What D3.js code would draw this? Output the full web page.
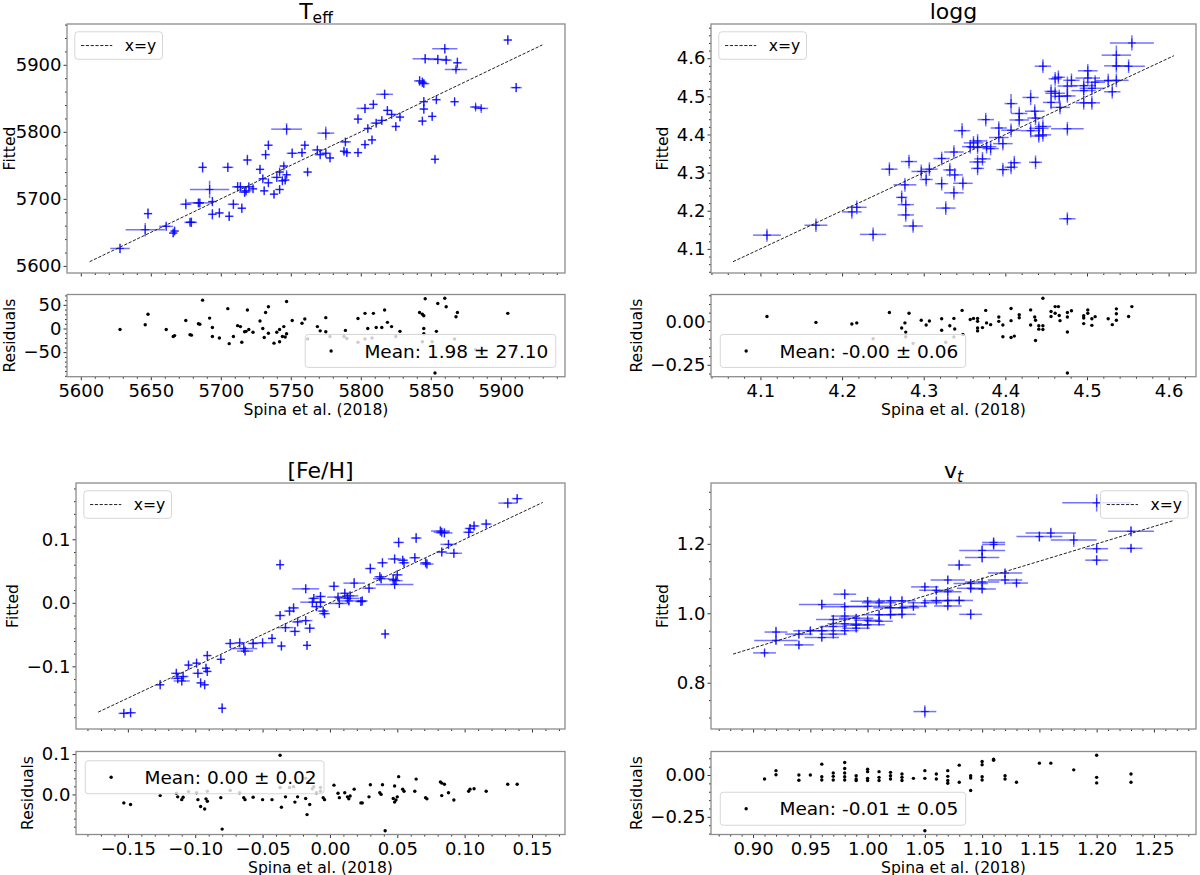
<!DOCTYPE html>
<html><head><meta charset="utf-8">
<script src="https://cdn.jsdelivr.net/npm/d3@7"></script>
<style>body{margin:0;background:#fff}svg{display:block}</style>
</head><body>
<svg id="c" width="1200" height="875"></svg>
<script>
// ---------------- DATA ----------------
const teffSpina = [5628,5646,5648,5661,5666,5667,5675,5678,5679,5684,
5685,5687,5692,5694,5694,5699,5705,5706,5709,5712,
5714,5715,5717,5718,5719,5720,5723,5728,5730,5731,
5732,5734,5734,5738,5740,5742,5742,5744,5745,5746,
5747,5747,5751,5758,5760,5762,5769,5771,5775,5775,
5778,5789,5788,5790,5798,5798,5803,5803,5805,5808,
5809,5811,5815,5817,5819,5822,5825,5828,5842,5844,
5845,5846,5845,5845,5844,5853,5854,5851,5855,5860,
5861,5867,5868,5869,5882,5886,5905,5911];
const teffFitted = [5626,5654,5678,5659,5649,5652,5692,5665,5665,5694,
5694,5747,5714,5696,5677,5679,5747,5674,5692,5718,
5718,5686,5710,5712,5758,5718,5715,5744,5730,5712,
5766,5780,5724,5707,5732,5740,5714,5727,5749,5728,
5804,5736,5768,5769,5780,5740,5773,5766,5768,5798,
5761,5785,5771,5769,5819,5769,5835,5781,5805,5788,
5841,5813,5817,5856,5832,5826,5808,5822,5876,5874,
5845,5909,5872,5834,5816,5759,5848,5823,5908,5924,
5907,5845,5893,5903,5837,5835,5937,5866];
const teffResid = [-2,8,30,-2,-17,-15,17,-13,-14,10,
9,60,22,2,-17,-20,42,-32,-17,6,
4,-29,-7,-6,39,-2,-8,16,0,-19,
34,46,-10,-31,-8,-2,-28,-17,4,-18,
57,-11,17,11,20,-22,4,-5,-7,23,
-17,-4,-17,-21,21,-29,32,-22,0,-20,
32,2,2,39,13,4,-17,-6,34,30,
0,63,27,-11,-28,-94,-6,-28,53,64,
46,-22,25,34,-45,-51,32,-45];
const teffSpinaErr = [7,14,3,5,3,3,4,4,4,4,
9,3,14,3,3,3,4,3,4,4,
4,3,4,4,3,4,3,3,3,3,
3,3,3,3,4,3,3,3,3,3,
11,3,4,3,3,3,4,4,4,6,
3,4,3,3,3,3,6,3,3,3,
3,4,4,6,3,4,3,3,4,3,
3,9,4,3,3,3,3,3,7,9,
4,3,8,3,4,5,3,4];
const teffFittedErr = [7,10,8,6,6,6,8,6,7,6,
6,8,13,7,8,7,7,7,7,7,
7,7,7,7,8,6,6,7,6,6,
7,7,6,6,6,5,6,6,5,6,
9,5,7,6,6,6,6,6,6,10,
6,6,6,6,7,6,7,6,6,6,
6,6,6,7,6,6,6,6,7,7,
7,7,6,7,6,6,6,6,7,7,
6,6,4,8,4,4,7,7];

const loggSpina = [4.108,4.168,4.212,4.218,4.238,4.258,4.273,4.277,4.278,4.278,
4.282,4.287,4.297,4.303,4.307,4.322,4.322,4.327,4.332,4.337,
4.337,4.338,4.347,4.348,4.357,4.361,4.366,4.366,4.366,4.366,
4.372,4.376,4.377,4.382,4.392,4.392,4.397,4.397,4.407,4.407,
4.407,4.411,4.417,4.417,4.431,4.431,4.436,4.437,4.437,4.441,
4.441,4.446,4.446,4.446,4.456,4.456,4.461,4.461,4.465,4.466,
4.467,4.476,4.476,4.476,4.476,4.481,4.496,4.496,4.496,4.501,
4.501,4.506,4.506,4.510,4.526,4.531,4.536,4.536,4.536,4.551,
4.555];
const loggFitted = [4.136,4.162,4.197,4.209,4.138,4.309,4.235,4.268,4.216,4.189,
4.329,4.160,4.303,4.282,4.309,4.337,4.271,4.207,4.307,4.354,
4.247,4.294,4.410,4.272,4.368,4.378,4.383,4.366,4.328,4.311,
4.336,4.439,4.368,4.363,4.417,4.392,4.376,4.308,4.481,4.411,
4.314,4.326,4.455,4.438,4.497,4.410,4.461,4.443,4.327,4.416,
4.396,4.399,4.421,4.579,4.513,4.484,4.546,4.508,4.550,4.500,
4.471,4.527,4.501,4.415,4.179,4.542,4.528,4.515,4.483,4.567,
4.548,4.521,4.483,4.537,4.541,4.512,4.608,4.580,4.542,4.579,
4.640];
const loggResid = [0.028,-0.006,-0.015,-0.009,-0.100,0.051,-0.038,-0.009,-0.062,-0.089,
0.047,-0.127,0.006,-0.021,0.002,0.015,-0.051,-0.120,-0.025,0.017,
-0.090,-0.044,0.063,-0.076,0.011,0.017,0.017,0.000,-0.038,-0.055,
-0.036,0.063,-0.009,-0.019,0.025,0.000,-0.021,-0.089,0.074,0.004,
-0.093,-0.085,0.038,0.021,0.066,-0.021,0.025,0.006,-0.110,-0.025,
-0.045,-0.047,-0.025,0.133,0.057,0.028,0.085,0.047,0.085,0.034,
0.004,0.051,0.025,-0.061,-0.297,0.061,0.032,0.019,-0.013,0.066,
0.047,0.015,-0.023,0.027,0.015,-0.019,0.072,0.044,0.006,0.028,
0.085];
const loggSpinaErr = [0.017,0.014,0.012,0.012,0.016,0.010,0.007,0.014,0.010,0.010,
0.010,0.012,0.012,0.008,0.010,0.010,0.008,0.012,0.008,0.012,
0.012,0.010,0.010,0.012,0.010,0.012,0.010,0.012,0.010,0.008,
0.010,0.010,0.012,0.010,0.010,0.012,0.012,0.008,0.008,0.012,
0.008,0.008,0.010,0.012,0.010,0.012,0.012,0.010,0.008,0.012,
0.010,0.010,0.010,0.010,0.008,0.010,0.008,0.012,0.008,0.010,
0.012,0.012,0.010,0.020,0.010,0.010,0.015,0.015,0.010,0.012,
0.015,0.015,0.010,0.012,0.015,0.010,0.018,0.015,0.015,0.020,
0.027];
const loggFittedErr = [0.017,0.018,0.018,0.018,0.018,0.018,0.018,0.018,0.018,0.018,
0.018,0.018,0.018,0.018,0.018,0.018,0.018,0.018,0.018,0.018,
0.018,0.018,0.020,0.018,0.018,0.018,0.018,0.018,0.018,0.018,
0.018,0.018,0.018,0.018,0.018,0.018,0.018,0.018,0.025,0.018,
0.018,0.018,0.018,0.018,0.020,0.018,0.018,0.018,0.018,0.018,
0.018,0.018,0.018,0.018,0.018,0.018,0.018,0.018,0.018,0.018,
0.018,0.025,0.018,0.018,0.017,0.018,0.018,0.018,0.018,0.018,
0.018,0.018,0.018,0.018,0.018,0.018,0.025,0.018,0.018,0.018,
0.020];

const fehSpina = [-0.153,-0.148,-0.126,-0.114,-0.113,-0.110,-0.109,-0.105,-0.099,-0.098,
-0.096,-0.093,-0.092,-0.091,-0.091,-0.081,-0.080,-0.074,-0.067,-0.064,
-0.063,-0.057,-0.050,-0.043,-0.037,-0.037,-0.036,-0.033,-0.030,-0.027,
-0.026,-0.024,-0.018,-0.018,-0.017,-0.015,-0.013,-0.012,-0.010,-0.007,
-0.007,-0.005,-0.004,0.003,0.006,0.007,0.011,0.013,0.014,0.015,
0.018,0.023,0.024,0.029,0.030,0.037,0.038,0.039,0.041,0.047,
0.048,0.048,0.049,0.050,0.051,0.054,0.055,0.063,0.064,0.071,
0.072,0.082,0.083,0.083,0.085,0.088,0.092,0.103,0.104,0.107,
0.116,0.132,0.139];
const fehFitted = [-0.174,-0.173,-0.129,-0.111,-0.119,-0.123,-0.116,-0.098,-0.095,-0.111,
-0.126,-0.129,-0.103,-0.108,-0.083,-0.089,-0.166,-0.064,-0.063,-0.072,
-0.076,-0.064,-0.063,-0.056,0.060,-0.020,-0.068,-0.039,-0.013,-0.008,
-0.045,-0.030,-0.028,0.022,-0.067,-0.040,0.001,0.007,-0.006,0.010,
0.001,-0.013,-0.017,0.026,0.009,-0.001,0.015,0.007,0.003,0.011,
0.031,0.002,0.003,0.023,0.054,0.041,0.038,0.063,-0.049,0.037,
0.069,0.029,0.035,0.044,0.095,0.067,0.063,0.071,0.102,0.063,
0.061,0.113,0.111,0.080,0.110,0.092,0.078,0.111,0.117,0.121,
0.124,0.157,0.164];
const fehResid = [-0.021,-0.025,-0.003,0.003,-0.006,-0.013,-0.007,0.007,0.004,-0.013,
-0.030,-0.036,-0.011,-0.017,0.008,-0.008,-0.086,0.010,0.004,-0.008,
-0.013,-0.007,-0.013,-0.013,0.097,0.017,-0.032,-0.006,0.017,0.019,
-0.019,-0.006,-0.010,0.040,-0.050,-0.025,0.014,0.019,0.004,0.017,
0.008,-0.008,-0.013,0.023,0.003,-0.008,0.004,-0.006,-0.011,-0.004,
0.013,-0.021,-0.021,-0.006,0.024,0.004,0.000,0.024,-0.090,-0.010,
0.021,-0.019,-0.014,-0.006,0.044,0.013,0.008,0.008,0.038,-0.008,
-0.011,0.031,0.028,-0.003,0.025,0.004,-0.014,0.008,0.013,0.014,
0.008,0.025,0.025];
const fehSpinaErr = [0.004,0.004,0.003,0.004,0.005,0.006,0.004,0.003,0.003,0.004,
0.003,0.003,0.003,0.003,0.003,0.003,0.003,0.004,0.004,0.010,
0.006,0.004,0.008,0.003,0.003,0.004,0.003,0.006,0.004,0.004,
0.004,0.004,0.005,0.010,0.003,0.004,0.009,0.004,0.004,0.004,
0.004,0.004,0.004,0.004,0.008,0.008,0.004,0.009,0.008,0.006,
0.008,0.004,0.004,0.005,0.004,0.004,0.006,0.004,0.003,0.004,
0.005,0.014,0.005,0.004,0.004,0.004,0.004,0.004,0.004,0.004,
0.005,0.007,0.006,0.004,0.006,0.006,0.006,0.004,0.004,0.004,
0.004,0.007,0.004];
const fehFittedErr = [0.007,0.007,0.007,0.007,0.008,0.007,0.007,0.007,0.007,0.007,
0.007,0.007,0.007,0.007,0.007,0.007,0.008,0.007,0.007,0.007,
0.007,0.007,0.007,0.007,0.008,0.007,0.007,0.007,0.007,0.007,
0.007,0.007,0.007,0.007,0.007,0.007,0.007,0.007,0.007,0.007,
0.007,0.007,0.007,0.007,0.007,0.007,0.007,0.007,0.007,0.007,
0.008,0.007,0.007,0.007,0.008,0.007,0.007,0.007,0.007,0.007,
0.007,0.007,0.007,0.007,0.008,0.007,0.007,0.007,0.008,0.007,
0.007,0.007,0.007,0.007,0.007,0.007,0.007,0.007,0.007,0.007,
0.007,0.008,0.007];

const vtSpina = [0.91,0.92,0.92,0.94,0.94,0.95,0.96,0.96,0.96,0.97,0.97,0.97,
0.98,0.98,0.98,0.98,0.98,0.99,0.99,0.99,1.00,1.00,1.00,1.00,1.01,1.01,1.01,
1.02,1.02,1.02,1.03,1.03,1.03,1.04,1.05,1.05,1.05,1.06,1.06,1.07,1.07,1.07,1.07,
1.08,1.08,1.09,1.09,1.09,1.10,1.10,1.10,1.10,1.11,1.11,1.12,1.12,1.13,1.15,1.16,
1.18,1.20,1.20,1.20,1.23,1.23];
const vtFitted = [0.886,0.946,0.922,0.940,0.909,0.950,1.025,0.950,0.930,0.982,0.962,0.940,
1.055,1.019,0.992,0.970,0.950,0.986,0.966,0.957,1.035,1.020,0.980,0.967,1.030,0.996,0.977,
1.036,1.016,0.996,1.036,1.016,0.997,1.020,1.076,1.030,0.717,1.066,1.036,1.096,1.062,1.037,1.021,
1.139,1.037,1.086,1.072,0.997,1.181,1.161,1.090,1.070,1.204,1.198,1.116,1.096,1.087,1.221,1.231,
1.211,1.318,1.186,1.153,1.236,1.187];
const vtResid = [-0.024,0.026,0.002,0.000,-0.031,0.000,0.065,-0.010,-0.030,0.012,-0.008,-0.030,
0.075,0.039,0.012,-0.010,-0.030,-0.004,-0.024,-0.033,0.035,0.020,-0.020,-0.033,0.020,-0.014,-0.033,
0.016,-0.004,-0.024,0.006,-0.014,-0.033,-0.020,0.026,-0.020,-0.333,0.006,-0.024,0.026,-0.008,-0.033,-0.049,
0.059,-0.043,-0.004,-0.018,-0.093,0.081,0.061,-0.010,-0.030,0.094,0.088,-0.004,-0.024,-0.043,0.071,0.071,
0.031,0.118,-0.014,-0.047,0.006,-0.043];
const vtSpinaErr = [0.010,0.010,0.019,0.012,0.013,0.015,0.020,0.012,0.015,0.015,0.012,0.012,
0.010,0.020,0.012,0.015,0.012,0.015,0.012,0.012,0.015,0.020,0.012,0.015,0.015,0.015,0.012,
0.012,0.015,0.012,0.012,0.015,0.012,0.012,0.012,0.015,0.010,0.015,0.012,0.015,0.012,0.015,0.012,
0.010,0.012,0.015,0.012,0.010,0.020,0.015,0.015,0.012,0.010,0.010,0.015,0.015,0.010,0.020,0.022,
0.020,0.030,0.010,0.010,0.020,0.010];
const vtFittedErr = [0.010,0.015,0.012,0.012,0.012,0.010,0.015,0.010,0.010,0.012,0.010,0.010,
0.015,0.012,0.012,0.010,0.010,0.012,0.010,0.010,0.012,0.012,0.010,0.010,0.012,0.012,0.010,
0.012,0.012,0.010,0.012,0.010,0.010,0.012,0.012,0.010,0.018,0.012,0.010,0.012,0.012,0.010,0.010,
0.015,0.010,0.012,0.012,0.015,0.015,0.015,0.012,0.012,0.015,0.015,0.012,0.012,0.010,0.015,0.015,
0.020,0.025,0.012,0.015,0.015,0.012];

// tick values (labels are formatted from them)
const teffXTicks = [5600,5650,5700,5750,5800,5850,5900];
const teffYTicks = [5600,5700,5800,5900];
const teffRTicks = [-50,0,50];
const loggXTicks = [4.1,4.2,4.3,4.4,4.5,4.6];
const loggYTicks = [4.1,4.2,4.3,4.4,4.5,4.6];
const loggRTicks = [-0.25,0.0];
const fehXTicks = [-0.15,-0.10,-0.05,0.00,0.05,0.10,0.15];
const fehYTicks = [-0.1,0.0,0.1];
const fehRTicks = [0.0,0.1];
const vtXTicks = [0.90,0.95,1.00,1.05,1.10,1.15,1.20,1.25];
const vtYTicks = [0.8,1.0,1.2];
const vtRTicks = [-0.25,0.0];

const meanLabels = ["Mean: 1.98 \u00b1 27.10","Mean: -0.00 \u00b1 0.06","Mean: 0.00 \u00b1 0.02","Mean: -0.01 \u00b1 0.05"];
const xLabel = "Spina et al. (2018)";
const lineLabel = "x=y";

// ---------------- LAYOUT ----------------
const FONT = "'DejaVu Sans', sans-serif";
const layout = {
  teff:{L:67,R:565,T:24,B:273,RT:294.5,RB:376.7},
  logg:{L:711,R:1196,T:24,B:273,RT:294.5,RB:376.7},
  feh:{L:76,R:565,T:483,B:729,RT:751.5,RB:834.5},
  vt:{L:711,R:1196,T:483,B:729,RT:751.5,RB:834.5}
};

const panels = [
 {key:"teff", title:[{t:"T",s:22,dy:0,it:false},{t:"eff",s:15.5,dy:4.5,it:false}],
  sp:teffSpina, fi:teffFitted, spE:teffSpinaErr, fiE:teffFittedErr, res:teffResid,
  xT:teffXTicks, yT:teffYTicks, rT:teffRTicks, xF:"d", yF:"d", rF:"d",
  xm:10, ym:20, rm:10, leg:"ul", rleg:"lr", mean:meanLabels[0]},
 {key:"logg", title:[{t:"logg",s:22,dy:0,it:false}],
  sp:loggSpina, fi:loggFitted, spE:loggSpinaErr, fiE:loggFittedErr, res:loggResid,
  xT:loggXTicks, yT:loggYTicks, rT:loggRTicks, xF:".1f", yF:".1f", rF:".2f",
  xm:0.02, ym:0.02, rm:0.05, leg:"ul", rleg:"ll", mean:meanLabels[1]},
 {key:"feh", title:[{t:"[Fe/H]",s:22,dy:0,it:false}],
  sp:fehSpina, fi:fehFitted, spE:fehSpinaErr, fiE:fehFittedErr, res:fehResid,
  xT:fehXTicks, yT:fehYTicks, rT:fehRTicks, xF:".2f", yF:".1f", rF:".1f",
  xm:0.01, ym:0.02, rm:0.02, leg:"ul", rleg:"ul", mean:meanLabels[2]},
 {key:"vt", title:[{t:"v",s:22,dy:0,it:false},{t:"t",s:15.5,dy:4.5,it:true}],
  sp:vtSpina, fi:vtFitted, spE:vtSpinaErr, fiE:vtFittedErr, res:vtResid,
  xT:vtXTicks, yT:vtYTicks, rT:vtRTicks, xF:".2f", yF:".1f", rF:".2f",
  xm:0.01, ym:0.05, rm:0.05, leg:"ur", rleg:"ll", mean:meanLabels[3]}
];

const svg = d3.select("#c");
svg.append("rect").attr("width",1200).attr("height",875).attr("fill","#fff");
const defs = svg.append("defs");

function padExt(a,b){ const r=b-a; return [a-0.05*r, b+0.05*r]; }
function minorVals(dom, step, majors){
  const a=Math.ceil(dom[0]/step-1e-9), b=Math.floor(dom[1]/step+1e-9);
  return d3.range(a,b+1).map(k=>+(k*step).toFixed(6))
    .filter(v=>!majors.some(m=>Math.abs(m-v)<step*1e-3));
}
function styleAxis(g){
  g.select(".domain").remove();
  g.attr("font-family",FONT).attr("font-size",18);
  g.selectAll(".tick line").attr("stroke","#333").attr("stroke-width",1);
  g.selectAll(".tick text").attr("fill","#000");
}
function textWidth(str,size){
  const t=svg.append("text").attr("font-family",FONT).attr("font-size",size).text(str);
  const w=t.node().getComputedTextLength(); t.remove(); return w;
}

panels.forEach((p,pi)=>{
  const fr = layout[p.key];
  const n = p.sp.length, idx=d3.range(n);
  const x0=d3.min(idx,i=>p.sp[i]-p.spE[i]), x1=d3.max(idx,i=>p.sp[i]+p.spE[i]);
  const lineExt = padExt(x0,x1);
  const xDom = padExt(Math.min(lineExt[0],x0), Math.max(lineExt[1],x1));
  const y0=Math.min(lineExt[0], d3.min(idx,i=>p.fi[i]-p.fiE[i]));
  const y1=Math.max(lineExt[1], d3.max(idx,i=>p.fi[i]+p.fiE[i]));
  const yDom = padExt(y0,y1);
  const rDom = padExt(d3.min(p.res), d3.max(p.res));
  const x=d3.scaleLinear().domain(xDom).range([fr.L,fr.R]);
  const y=d3.scaleLinear().domain(yDom).range([fr.B,fr.T]);
  const yr=d3.scaleLinear().domain(rDom).range([fr.RB,fr.RT]);

  const g = svg.append("g");
  const cm="cm"+pi, cr="cr"+pi;
  defs.append("clipPath").attr("id",cm).append("rect").attr("x",fr.L).attr("y",fr.T).attr("width",fr.R-fr.L).attr("height",fr.B-fr.T);
  defs.append("clipPath").attr("id",cr).append("rect").attr("x",fr.L).attr("y",fr.RT).attr("width",fr.R-fr.L).attr("height",fr.RB-fr.RT);

  // ---- main panel
  const gm = g.append("g").attr("clip-path",`url(#${cm})`);
  const eb = gm.append("g").attr("stroke","#0000ff").attr("stroke-width",1.5).attr("stroke-opacity",0.55).attr("fill","none");
  idx.forEach(i=>{
    const cx=x(p.sp[i]), cy=y(p.fi[i]);
    eb.append("line").attr("x1",x(p.sp[i]-p.spE[i])).attr("x2",x(p.sp[i]+p.spE[i])).attr("y1",cy).attr("y2",cy);
    eb.append("line").attr("x1",cx).attr("x2",cx).attr("y1",y(p.fi[i]-p.fiE[i])).attr("y2",y(p.fi[i]+p.fiE[i]));
  });
  const mk = gm.append("g").attr("stroke","#0000ff").attr("stroke-width",1.2).attr("stroke-opacity",0.7);
  idx.forEach(i=>{
    const cx=x(p.sp[i]), cy=y(p.fi[i]);
    mk.append("line").attr("x1",cx-4).attr("x2",cx+4).attr("y1",cy).attr("y2",cy);
    mk.append("line").attr("x1",cx).attr("x2",cx).attr("y1",cy-4.5).attr("y2",cy+4.5);
  });
  gm.append("line").attr("x1",x(lineExt[0])).attr("y1",y(lineExt[0])).attr("x2",x(lineExt[1])).attr("y2",y(lineExt[1]))
    .attr("stroke","#222").attr("stroke-width",1).attr("stroke-dasharray","3.2,1.6");

  // main axes
  const gxM = g.append("g").attr("transform",`translate(0,${fr.B})`);
  gxM.call(d3.axisBottom(x).tickValues(p.xT).tickSize(3.5).tickFormat(""));
  styleAxis(gxM);
  const gxMm = g.append("g").attr("transform",`translate(0,${fr.B})`);
  gxMm.call(d3.axisBottom(x).tickValues(minorVals(xDom,p.xm,p.xT)).tickSize(2).tickFormat(""));
  styleAxis(gxMm);
  const gyM = g.append("g").attr("transform",`translate(${fr.L},0)`);
  gyM.call(d3.axisLeft(y).tickValues(p.yT).tickSize(3.5).tickPadding(2).tickFormat(d3.format(p.yF)));
  styleAxis(gyM);
  const gyMm = g.append("g").attr("transform",`translate(${fr.L},0)`);
  gyMm.call(d3.axisLeft(y).tickValues(minorVals(yDom,p.ym,p.yT)).tickSize(2).tickFormat(""));
  styleAxis(gyMm);
  g.append("rect").attr("x",fr.L).attr("y",fr.T).attr("width",fr.R-fr.L).attr("height",fr.B-fr.T)
    .attr("fill","none").attr("stroke","#8c8c8c").attr("stroke-width",1.3);

  // main legend
  {
    const f=15.6, tw=textWidth(lineLabel,f);
    const w=0.4*f+2*f+0.8*f+tw+0.4*f, h=27.5;
    const bx = p.leg==="ur" ? fr.R-0.5*f-w : fr.L+0.5*f;
    const by = fr.T+0.5*f;
    g.append("rect").attr("x",bx).attr("y",by).attr("width",w).attr("height",h).attr("rx",3)
      .attr("fill","#fff").attr("fill-opacity",0.8).attr("stroke","#d6d6d6").attr("stroke-width",1);
    g.append("line").attr("x1",bx+0.4*f).attr("x2",bx+2.4*f).attr("y1",by+h/2).attr("y2",by+h/2)
      .attr("stroke","#222").attr("stroke-width",1).attr("stroke-dasharray","3.2,1.6");
    g.append("text").attr("x",bx+3.2*f).attr("y",by+h/2).attr("dy","0.36em")
      .attr("font-family",FONT).attr("font-size",f).attr("fill","#000").text(lineLabel);
  }

  // title
  const tt = g.append("text").attr("x",(fr.L+fr.R)/2).attr("y",fr.T-5.5).attr("text-anchor","middle")
    .attr("font-family",FONT).attr("fill","#000");
  p.title.forEach(s=>{
    tt.append("tspan").attr("font-size",s.s).attr("dy",s.dy).attr("font-style",s.it?"italic":"normal").text(s.t);
  });

  // y label main
  const bbM = gyM.node().getBBox();
  const lxM = Math.max(fr.L+bbM.x-8.5, 15);
  g.append("text").attr("transform",`translate(${lxM},${(fr.T+fr.B)/2}) rotate(-90)`)
    .attr("text-anchor","middle").attr("font-family",FONT).attr("font-size",15.6).attr("fill","#000").text("Fitted");

  // ---- residual panel
  const gr = g.append("g").attr("clip-path",`url(#${cr})`);
  gr.append("g").selectAll("circle").data(idx).join("circle")
    .attr("cx",i=>x(p.sp[i])).attr("cy",i=>yr(p.res[i])).attr("r",1.7).attr("fill","#000");

  const gxR = g.append("g").attr("transform",`translate(0,${fr.RB})`);
  gxR.call(d3.axisBottom(x).tickValues(p.xT).tickSize(3.5).tickPadding(4).tickFormat(d3.format(p.xF)));
  styleAxis(gxR);
  const gxRm = g.append("g").attr("transform",`translate(0,${fr.RB})`);
  gxRm.call(d3.axisBottom(x).tickValues(minorVals(xDom,p.xm,p.xT)).tickSize(2).tickFormat(""));
  styleAxis(gxRm);
  const gyR = g.append("g").attr("transform",`translate(${fr.L},0)`);
  gyR.call(d3.axisLeft(yr).tickValues(p.rT).tickSize(3.5).tickPadding(2).tickFormat(d3.format(p.rF)));
  styleAxis(gyR);
  const gyRm = g.append("g").attr("transform",`translate(${fr.L},0)`);
  gyRm.call(d3.axisLeft(yr).tickValues(minorVals(rDom,p.rm,p.rT)).tickSize(2).tickFormat(""));
  styleAxis(gyRm);
  g.append("rect").attr("x",fr.L).attr("y",fr.RT).attr("width",fr.R-fr.L).attr("height",fr.RB-fr.RT)
    .attr("fill","none").attr("stroke","#8c8c8c").attr("stroke-width",1.3);

  // residual legend
  {
    const f=18.5, tw=textWidth(p.mean,f);
    const w=0.4*f+2*f+0.8*f+tw+0.4*f, h=33;
    const bx = p.rleg==="lr" ? fr.R-0.5*f-w : fr.L+0.5*f;
    const by = p.rleg==="ul" ? fr.RT+0.5*f : fr.RB-0.5*f-h;
    g.append("rect").attr("x",bx).attr("y",by).attr("width",w).attr("height",h).attr("rx",3)
      .attr("fill","#fff").attr("fill-opacity",0.8).attr("stroke","#d6d6d6").attr("stroke-width",1);
    g.append("circle").attr("cx",bx+1.4*f).attr("cy",by+h/2).attr("r",1.7).attr("fill","#000");
    g.append("text").attr("x",bx+3.2*f).attr("y",by+h/2).attr("dy","0.36em")
      .attr("font-family",FONT).attr("font-size",f).attr("fill","#000").text(p.mean);
  }

  // residual labels
  const bbR = gyR.node().getBBox();
  const lxR = Math.max(fr.L+bbR.x-8.5, 15);
  g.append("text").attr("transform",`translate(${lxR},${(fr.RT+fr.RB)/2}) rotate(-90)`)
    .attr("text-anchor","middle").attr("font-family",FONT).attr("font-size",15.6).attr("fill","#000").text("Residuals");
  g.append("text").attr("x",(fr.L+fr.R)/2).attr("y",fr.RB+38).attr("text-anchor","middle")
    .attr("font-family",FONT).attr("font-size",15.6).attr("fill","#000").text(xLabel);
});
</script>
</body></html>
